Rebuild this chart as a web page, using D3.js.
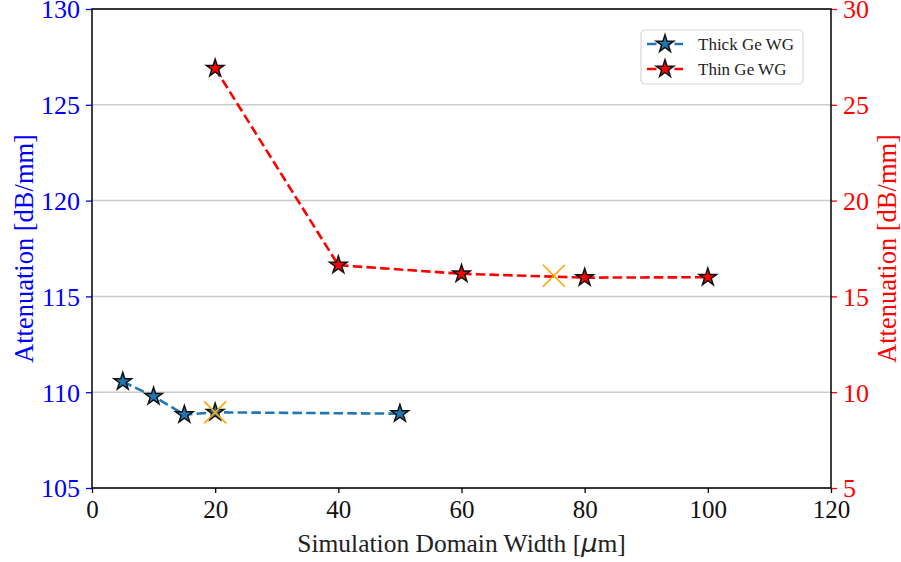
<!DOCTYPE html>
<html lang="en">
<head>
<meta charset="utf-8">
<title>Attenuation vs simulation domain width</title>
<script src="https://d3js.org/d3.v7.min.js"></script>
<style>
  body { margin: 0; background: #fff; }
</style>
</head>
<body>
<div id="chart"></div>
<script>
// data
var thickX = [5, 10, 15, 20, 50];
var thickY = [110.55, 109.78, 108.83, 108.95, 108.88];
var thinX = [20, 40, 60, 80, 100];
var thinY = [26.9, 16.63, 16.18, 15.98, 16.0];
// orange "x" markers (chosen points)
var thickPick = [20, 108.95];
var thinPick = [75, 16.08];

var xTicks = [0, 20, 40, 60, 80, 100, 120];
var leftTicks = [105, 110, 115, 120, 125, 130];
var rightTicks = [5, 10, 15, 20, 25, 30];
var seriesNames = ["Thick Ge WG", "Thin Ge WG"];

var SERIF = "'Liberation Serif', 'Times New Roman', 'DejaVu Serif', serif";
var W = 901, H = 562;
var margin = { top: 9, right: 70, bottom: 74, left: 92 };
var width = 831 - margin.left, height = 488 - margin.top;

var svg = d3.select("#chart").append("svg")
    .attr("width", W).attr("height", H)
    .attr("font-family", SERIF);
var g = svg.append("g").attr("transform", `translate(${margin.left},${margin.top})`);

var x = d3.scaleLinear().domain([0, 120]).range([0, width]);
var yL = d3.scaleLinear().domain([105, 130]).range([height, 0]);
var yR = d3.scaleLinear().domain([5, 30]).range([height, 0]);

// grid
g.append("g").selectAll("line")
    .data(leftTicks)
    .join("line")
    .attr("x1", 0).attr("x2", width)
    .attr("y1", d => yL(d)).attr("y2", d => yL(d))
    .attr("stroke", "#cccccc").attr("stroke-width", 1.5);

// axes
var axB = g.append("g").attr("transform", `translate(0,${height})`)
    .call(d3.axisBottom(x).tickValues(xTicks).tickSize(5).tickPadding(7));
axB.attr("font-family", SERIF);
axB.selectAll("text").attr("font-size", 25).attr("fill", "#111");
axB.selectAll("line").attr("stroke", "#000").attr("stroke-width", 1.3);

var axL = g.append("g")
    .call(d3.axisLeft(yL).tickValues(leftTicks).tickSize(6).tickPadding(6));
axL.attr("font-family", SERIF);
axL.selectAll("text").attr("font-size", 26).attr("fill", "blue").attr("dy", "0.34em");
axL.selectAll("line").attr("stroke", "blue").attr("stroke-width", 1.3);

var axR = g.append("g").attr("transform", `translate(${width},0)`)
    .call(d3.axisRight(yR).tickValues(rightTicks).tickSize(6).tickPadding(6));
axR.attr("font-family", SERIF);
axR.selectAll("text").attr("font-size", 26).attr("fill", "red").attr("dy", "0.34em");
axR.selectAll("line").attr("stroke", "red").attr("stroke-width", 1.3);

[axB, axL, axR].forEach(a => a.select(".domain").remove());

// frame
g.append("rect").attr("width", width).attr("height", height)
    .attr("fill", "none").attr("stroke", "#000").attr("stroke-width", 1.5);

// axis labels
svg.append("text")
    .attr("transform", `translate(33,${margin.top + height / 2}) rotate(-90)`)
    .attr("text-anchor", "middle").attr("font-size", 26.5).attr("fill", "blue")
    .text("Attenuation [dB/mm]");
svg.append("text")
    .attr("transform", `translate(896,${margin.top + height / 2}) rotate(-90)`)
    .attr("text-anchor", "middle").attr("font-size", 26.5).attr("fill", "red")
    .text("Attenuation [dB/mm]");
var xl = svg.append("text")
    .attr("x", margin.left + width / 2).attr("y", 552)
    .attr("text-anchor", "middle").attr("font-size", 25.5).attr("fill", "#222");
xl.append("tspan").text("Simulation Domain Width [");
xl.append("tspan").attr("font-family", "DejaVu Sans").attr("font-style", "italic").text("\u03bc");
xl.append("tspan").text("m]");

// series
var star = d3.symbol().type(d3.symbolStar).size(95);

function drawSeries(xs, ys, yScale, color) {
    var pts = xs.map((d, i) => [x(d), yScale(ys[i])]);
    g.append("path")
        .attr("d", d3.line()(pts))
        .attr("fill", "none").attr("stroke", color)
        .attr("stroke-width", 2.6).attr("stroke-dasharray", "9.5,4.2");
    g.append("g").selectAll("path")
        .data(pts)
        .join("path")
        .attr("transform", d => `translate(${d[0]},${d[1]})`)
        .attr("d", star)
        .attr("fill", color).attr("stroke", "#111").attr("stroke-width", 1.5);
}
drawSeries(thickX, thickY, yL, "#1f77b4");
drawSeries(thinX, thinY, yR, "#ff0000");

function drawPick(p, yScale) {
    var s = 11;
    var cx = x(p[0]), cy = yScale(p[1]);
    g.append("path")
        .attr("d", `M${cx - s},${cy - s}L${cx + s},${cy + s}M${cx - s},${cy + s}L${cx + s},${cy - s}`)
        .attr("stroke", "orange").attr("stroke-width", 1.6).attr("fill", "none");
}
drawPick(thickPick, yL);
drawPick(thinPick, yR);

// legend
var lg = svg.append("g").attr("transform", "translate(641,30)");
lg.append("rect").attr("width", 162).attr("height", 54).attr("rx", 4)
    .attr("fill", "#fff").attr("stroke", "#d8d8d8").attr("stroke-width", 1.2);
var colors = ["#1f77b4", "#ff0000"];
seriesNames.forEach(function (name, i) {
    var yy = 14 + i * 25;
    lg.append("line").attr("x1", 6).attr("x2", 42).attr("y1", yy).attr("y2", yy)
        .attr("stroke", colors[i]).attr("stroke-width", 2.6).attr("stroke-dasharray", "9.5,4.2");
    lg.append("path").attr("transform", `translate(24,${yy})`).attr("d", star)
        .attr("fill", colors[i]).attr("stroke", "#111").attr("stroke-width", 1.5);
    lg.append("text").attr("x", 57).attr("y", yy + 6).attr("font-size", 17)
        .attr("fill", "#222").text(name);
});
</script>
</body>
</html>
